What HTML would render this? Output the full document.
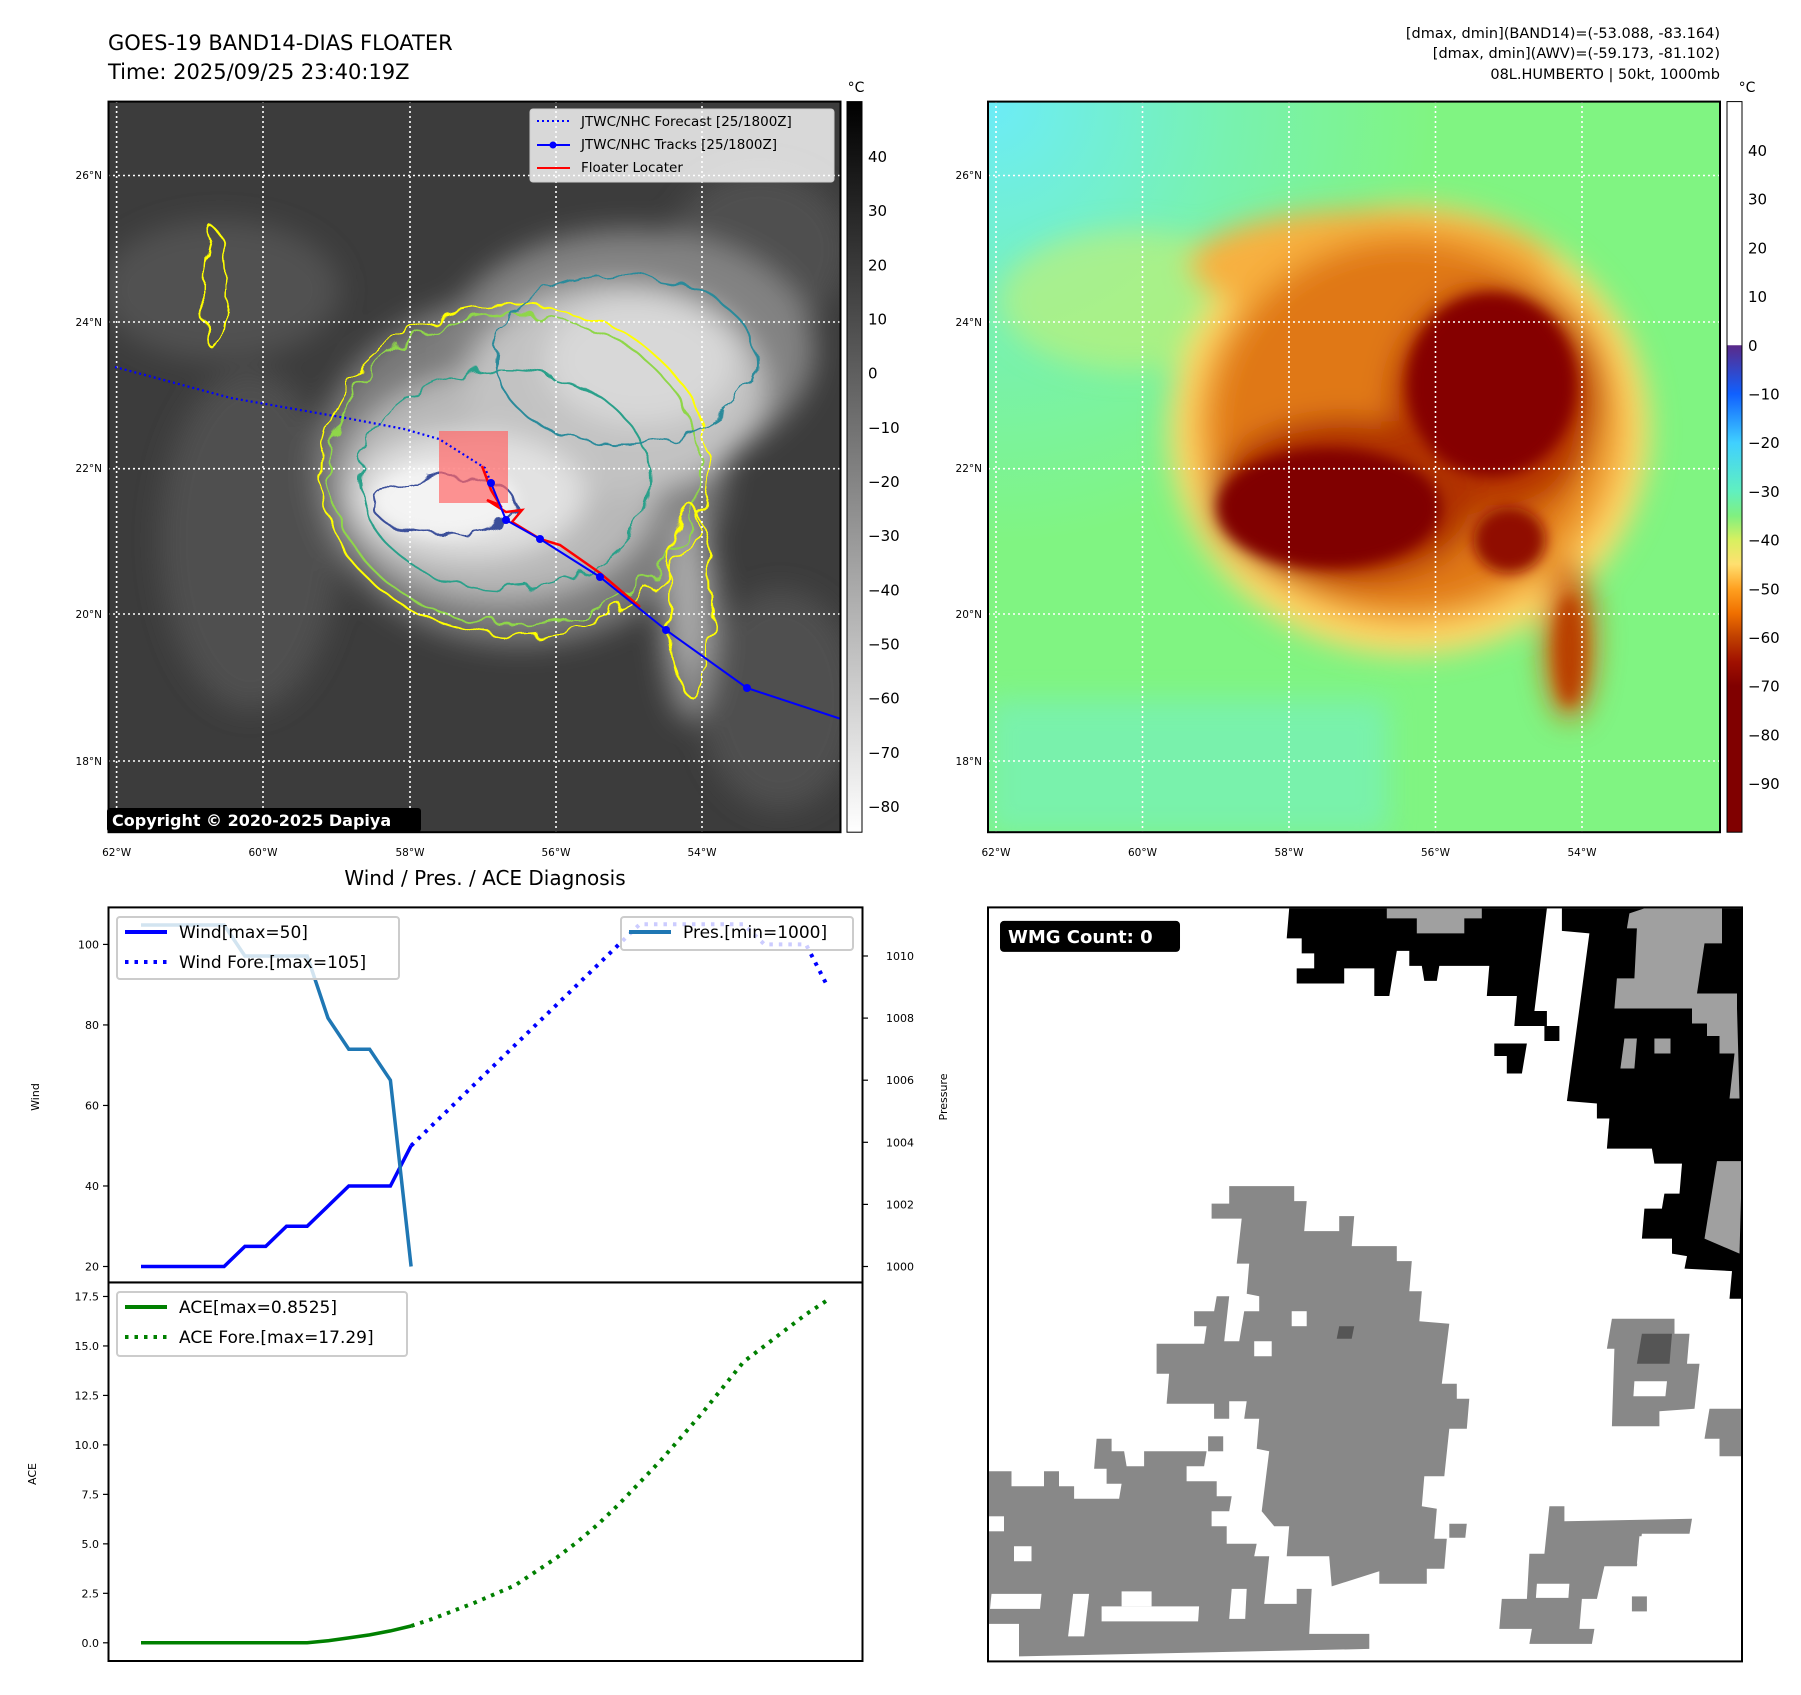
<!DOCTYPE html>
<html><head><meta charset="utf-8"><style>
html,body{margin:0;padding:0;background:#fff;}
svg text{font-family:"DejaVu Sans","Liberation Sans",sans-serif;}
</style></head><body>
<svg id="root" width="1801" height="1690" viewBox="0 0 1801 1690" xmlns="http://www.w3.org/2000/svg">
<defs>
<filter id="blur12" x="-50%" y="-50%" width="200%" height="200%"><feGaussianBlur stdDeviation="14"/></filter>
<filter id="blur6" x="-50%" y="-50%" width="200%" height="200%"><feGaussianBlur stdDeviation="7"/></filter>
<filter id="wig" x="-20%" y="-20%" width="140%" height="140%"><feTurbulence type="fractalNoise" baseFrequency="0.04" numOctaves="2" seed="3"/><feDisplacementMap in="SourceGraphic" scale="22"/></filter>
<clipPath id="c1"><rect x="108.5" y="101.6" width="732" height="730.6"/></clipPath>
<clipPath id="c2"><rect x="988" y="101.6" width="732" height="730.6"/></clipPath>
<linearGradient id="cb1" x1="0" y1="0" x2="0" y2="1"><stop offset="0" stop-color="#000"/><stop offset="1" stop-color="#fff"/></linearGradient>
<linearGradient id="cb2" x1="0" y1="0" x2="0" y2="1">
<stop offset="0" stop-color="#fff"/><stop offset="0.333" stop-color="#fff"/>
<stop offset="0.334" stop-color="#5a2a8a"/><stop offset="0.40" stop-color="#1060ff"/>
<stop offset="0.467" stop-color="#40d0ff"/><stop offset="0.533" stop-color="#60f0c0"/>
<stop offset="0.567" stop-color="#80f080"/><stop offset="0.60" stop-color="#d8f060"/>
<stop offset="0.633" stop-color="#ffe070"/><stop offset="0.667" stop-color="#ffa020"/>
<stop offset="0.70" stop-color="#f07000"/><stop offset="0.733" stop-color="#c04000"/>
<stop offset="0.767" stop-color="#a01000"/><stop offset="0.80" stop-color="#800000"/><stop offset="1" stop-color="#800000"/>
</linearGradient>
<radialGradient id="bg2" cx="0" cy="0" r="1.1"><stop offset="0" stop-color="#6cecf8"/><stop offset="0.3" stop-color="#78f2b0"/><stop offset="0.55" stop-color="#80f482"/><stop offset="1" stop-color="#80f482"/></radialGradient>
</defs>

<text x="108" y="50" font-size="21">GOES-19 BAND14-DIAS FLOATER</text>
<text x="108" y="79" font-size="21">Time: 2025/09/25 23:40:19Z</text>
<g font-size="14.5" text-anchor="end">
<text x="1720" y="38">[dmax, dmin](BAND14)=(-53.088, -83.164)</text>
<text x="1720" y="58">[dmax, dmin](AWV)=(-59.173, -81.102)</text>
<text x="1720" y="79">08L.HUMBERTO | 50kt, 1000mb</text>
</g>

<g clip-path="url(#c1)">
<rect x="108.5" y="101.6" width="732" height="731" fill="#3c3c3c"/>
<g filter="url(#blur12)">
<ellipse cx="250" cy="540" rx="90" ry="170" fill="#505050"/>
<ellipse cx="220" cy="290" rx="120" ry="70" fill="#515151"/>
<ellipse cx="760" cy="250" rx="90" ry="80" fill="#505050"/>
<ellipse cx="780" cy="700" rx="80" ry="110" fill="#505050"/>
<ellipse cx="520" cy="470" rx="205" ry="175" fill="#7a7a7a"/>
<ellipse cx="630" cy="350" rx="185" ry="120" fill="#828282"/>
<ellipse cx="690" cy="620" rx="28" ry="100" fill="#8a8a8a"/>
<ellipse cx="500" cy="485" rx="160" ry="115" fill="#b8b8b8"/>
<ellipse cx="615" cy="390" rx="150" ry="105" fill="#c2c2c2"/>
<ellipse cx="688" cy="590" rx="18" ry="80" fill="#aaa"/>
<ellipse cx="470" cy="495" rx="115" ry="62" fill="#e2e2e2"/>
<ellipse cx="640" cy="360" rx="95" ry="65" fill="#d8d8d8"/>
</g>
<ellipse cx="445" cy="500" rx="72" ry="36" fill="#f3f3f3" filter="url(#blur6)"/>
<g fill="none" stroke-width="2" filter="url(#wig)">
<ellipse cx="515" cy="470" rx="195" ry="165" stroke="#ffff00"/>
<ellipse cx="515" cy="470" rx="185" ry="155" stroke="#8fd64a"/>
<ellipse cx="505" cy="480" rx="145" ry="110" stroke="#2aa08a"/>
<ellipse cx="625" cy="360" rx="130" ry="85" stroke="#2a8a9a"/>
<ellipse cx="445" cy="505" rx="72" ry="30" stroke="#3b4f9a"/>
<ellipse cx="690" cy="600" rx="22" ry="95" stroke="#ffff00"/>
<ellipse cx="215" cy="290" rx="12" ry="60" stroke="#ffff00"/>
</g>
<g stroke="#fff" stroke-width="1.6" stroke-dasharray="2,3">
<line x1="116.6" y1="101" x2="116.6" y2="833"/><line x1="263" y1="101" x2="263" y2="833"/><line x1="410" y1="101" x2="410" y2="833"/><line x1="556" y1="101" x2="556" y2="833"/><line x1="702" y1="101" x2="702" y2="833"/>
<line x1="108" y1="175.5" x2="841" y2="175.5"/><line x1="108" y1="322" x2="841" y2="322"/><line x1="108" y1="468.7" x2="841" y2="468.7"/><line x1="108" y1="614" x2="841" y2="614"/><line x1="108" y1="761" x2="841" y2="761"/>
</g>
<rect x="439" y="431" width="69" height="72" fill="#ff6666" opacity="0.7"/>
<polyline points="115,367 231,398 346,418 404,429 439,439 485,468 491,483" fill="none" stroke="#0000ff" stroke-width="2.2" stroke-dasharray="2,3"/>
<polyline points="482,466 491,490 500,505 487,500 506,512 522,510 512,522 540,539 560,545 600,573 640,607" fill="none" stroke="#ff0000" stroke-width="2.5"/>
<polyline points="491,483 506,520 540,539 600,577 666,630 747,688 841,719" fill="none" stroke="#0000ff" stroke-width="2"/>
<g fill="#0000ff"><circle cx="491" cy="483" r="4"/><circle cx="506" cy="520" r="4"/><circle cx="540" cy="539" r="4"/><circle cx="600" cy="577" r="4"/><circle cx="666" cy="630" r="4"/><circle cx="747" cy="688" r="4"/></g>
</g>
<rect x="108.5" y="101.6" width="732" height="730.6" fill="none" stroke="#000" stroke-width="2"/>
<g>
<rect x="530" y="109" width="304" height="73" rx="3" fill="#fff" fill-opacity="0.8" stroke="#ccc"/>
<line x1="537" y1="121" x2="570" y2="121" stroke="#0000ff" stroke-width="2" stroke-dasharray="2,3"/>
<line x1="537" y1="145" x2="570" y2="145" stroke="#0000ff" stroke-width="2"/><circle cx="553" cy="145" r="3.5" fill="#0000ff"/>
<line x1="537" y1="168" x2="570" y2="168" stroke="#ff0000" stroke-width="2"/>
<g font-size="13.5"><text x="581" y="126">JTWC/NHC Forecast [25/1800Z]</text><text x="581" y="149">JTWC/NHC Tracks [25/1800Z]</text><text x="581" y="172">Floater Locater</text></g>
</g>
<g><rect x="107" y="808" width="314" height="24" rx="3" fill="#000"/>
<text x="112" y="826" font-size="16" font-weight="bold" fill="#fff">Copyright © 2020-2025 Dapiya</text></g>
<g font-size="10.5">
<g text-anchor="end"><text x="102" y="179">26°N</text><text x="102" y="326">24°N</text><text x="102" y="472">22°N</text><text x="102" y="618">20°N</text><text x="102" y="765">18°N</text></g>
<g text-anchor="middle"><text x="116.6" y="856">62°W</text><text x="263" y="856">60°W</text><text x="410" y="856">58°W</text><text x="556" y="856">56°W</text><text x="702" y="856">54°W</text></g>
</g>
<g>
<rect x="847" y="101.6" width="15" height="730.6" fill="url(#cb1)" stroke="#000" stroke-width="1"/>
<text x="856" y="92" font-size="14" text-anchor="middle">°C</text>
<g font-size="15" id="cb1labels"></g>
</g>

<g clip-path="url(#c2)">
<rect x="988" y="101.6" width="732" height="731" fill="url(#bg2)"/>
<rect x="988" y="700" width="400" height="133" fill="#74f0c8" opacity="0.6" filter="url(#blur12)"/>
<g transform="translate(879.5,0)">
<g filter="url(#blur12)">
<ellipse cx="250" cy="300" rx="130" ry="70" fill="#c8f070" opacity="0.6"/>
<ellipse cx="530" cy="430" rx="240" ry="225" fill="#ffd868"/>
<ellipse cx="490" cy="265" rx="180" ry="55" fill="#f8b040"/>
<ellipse cx="530" cy="425" rx="215" ry="200" fill="#f0a030"/>
<ellipse cx="525" cy="425" rx="190" ry="182" fill="#e07818"/>
<ellipse cx="690" cy="640" rx="26" ry="80" fill="#d06818"/>
<ellipse cx="615" cy="400" rx="105" ry="115" fill="#b83800"/>
<ellipse cx="465" cy="500" rx="135" ry="82" fill="#b03000"/>
</g>
<ellipse cx="450" cy="508" rx="112" ry="60" fill="#800000" filter="url(#blur6)"/>
<ellipse cx="612" cy="385" rx="85" ry="92" fill="#850200" filter="url(#blur6)"/>
<ellipse cx="630" cy="540" rx="36" ry="33" fill="#901000" filter="url(#blur6)"/>
<ellipse cx="690" cy="650" rx="14" ry="55" fill="#b84000" filter="url(#blur6)"/>
</g>
<g stroke="#fff" stroke-width="1.6" stroke-dasharray="2,3">
<line x1="996" y1="101" x2="996" y2="833"/><line x1="1142.5" y1="101" x2="1142.5" y2="833"/><line x1="1289" y1="101" x2="1289" y2="833"/><line x1="1435.5" y1="101" x2="1435.5" y2="833"/><line x1="1582" y1="101" x2="1582" y2="833"/>
<line x1="988" y1="175.5" x2="1720" y2="175.5"/><line x1="988" y1="322" x2="1720" y2="322"/><line x1="988" y1="468.7" x2="1720" y2="468.7"/><line x1="988" y1="614" x2="1720" y2="614"/><line x1="988" y1="761" x2="1720" y2="761"/>
</g>
</g>
<rect x="988" y="101.6" width="732" height="730.6" fill="none" stroke="#000" stroke-width="2"/>
<g font-size="10.5">
<g text-anchor="end"><text x="982" y="179">26°N</text><text x="982" y="326">24°N</text><text x="982" y="472">22°N</text><text x="982" y="618">20°N</text><text x="982" y="765">18°N</text></g>
<g text-anchor="middle"><text x="996" y="856">62°W</text><text x="1142.5" y="856">60°W</text><text x="1289" y="856">58°W</text><text x="1435.5" y="856">56°W</text><text x="1582" y="856">54°W</text></g>
</g>
<g>
<rect x="1727" y="101.6" width="15" height="730.6" fill="url(#cb2)" stroke="#000" stroke-width="1"/>
<text x="1747" y="92" font-size="14" text-anchor="middle">°C</text>
<g font-size="15" id="cb2labels"></g>
</g>

<text x="485" y="885" font-size="20" text-anchor="middle">Wind / Pres. / ACE Diagnosis</text>
<g id="chart"></g>
<rect x="108.5" y="907.4" width="754" height="375" fill="none" stroke="#000" stroke-width="2"/>
<rect x="108.5" y="1282.5" width="754" height="378.5" fill="none" stroke="#000" stroke-width="2"/>
<text transform="translate(39,1097) rotate(-90)" font-size="11" text-anchor="middle">Wind</text>
<text transform="translate(947,1097) rotate(-90)" font-size="11" text-anchor="middle">Pressure</text>
<text transform="translate(36,1474) rotate(-90)" font-size="11" text-anchor="middle">ACE</text>

<g id="wmg"></g>
</svg>
<script>
const NS="http://www.w3.org/2000/svg";
function mk(tag,attrs,parent){const e=document.createElementNS(NS,tag);for(const k in attrs)e.setAttribute(k,attrs[k]);parent.appendChild(e);return e;}

const cb1Ticks=[40,30,20,10,0,-10,-20,-30,-40,-50,-60,-70,-80];
const cb2Ticks=[40,30,20,10,0,-10,-20,-30,-40,-50,-60,-70,-80,-90];
const g1=document.getElementById('cb1labels');
cb1Ticks.forEach(v=>{const y=157+(40-v)*5.417;const t=mk('text',{x:868,y:y+5},g1);t.textContent=(v<0?'\u2212'+(-v):v);

});
const g2=document.getElementById('cb2labels');
cb2Ticks.forEach(v=>{const y=151+(40-v)*4.87;const t=mk('text',{x:1748,y:y+5},g2);t.textContent=(v<0?'\u2212'+(-v):v);

});

const windObs=[20,20,20,20,20,25,25,30,30,35,40,40,40,50];
const presObs=[1011,1011,1011,1011,1011,1010,1010,1010,1010,1008,1007,1007,1006,1000];
const windFore=[50,55,60,65,70,75,80,85,90,95,100,105,105,105,105,105,105,100,100,100,90];
const aceObs=[0,0,0,0,0,0,0,0,0,0.1,0.25,0.4,0.6,0.85];
const aceFore=[0.85,1.2,1.6,2.0,2.45,2.9,3.6,4.3,5.1,6.0,7.0,8.1,9.2,10.4,11.6,12.9,14.2,15.0,15.8,16.6,17.29];
const windTicks=[20,40,60,80,100];
const presTicks=[1000,1002,1004,1006,1008,1010];
const aceTicks=[0,2.5,5,7.5,10,12.5,15,17.5];
const foreStart=13;

const cx=i=>141+i*20.78;
const wy=v=>1266.5-(v-20)*4.026;
const py=p=>1266.5-(p-1000)*31.05;
const ay=a=>1642.8-a*19.79;
const ch=document.getElementById('chart');

function pts(arr,f,off){return arr.map((v,i)=>cx(i+off).toFixed(1)+','+f(v).toFixed(1)).join(' ');}
let l;
l=mk('polyline',{points:pts(windFore,wy,foreStart),fill:'none',stroke:'#0000ff','stroke-width':4,'stroke-dasharray':'3.5,6'},ch);


l=mk('polyline',{points:pts(windObs,wy,0),fill:'none',stroke:'#0000ff','stroke-width':3.5},ch);


l=mk('polyline',{points:pts(presObs,py,0),fill:'none',stroke:'#1f77b4','stroke-width':3.5},ch);


l=mk('polyline',{points:pts(aceFore,ay,foreStart),fill:'none',stroke:'#008000','stroke-width':4,'stroke-dasharray':'3.5,6'},ch);


l=mk('polyline',{points:pts(aceObs,ay,0),fill:'none',stroke:'#008000','stroke-width':3.5},ch);



windTicks.forEach(v=>{const y=wy(v);const tk=mk('line',{x1:103,x2:108.5,y1:y,y2:y,stroke:'#000','stroke-width':1.2},ch);


const t=mk('text',{x:99,y:y+4,'font-size':11,'text-anchor':'end'},ch);t.textContent=v;

});
presTicks.forEach(v=>{const y=py(v);const tk=mk('line',{x1:862.5,x2:868,y1:y,y2:y,stroke:'#000','stroke-width':1.2},ch);


const t=mk('text',{x:886,y:y+4,'font-size':11},ch);t.textContent=v;

});
aceTicks.forEach(v=>{const y=ay(v);const tk=mk('line',{x1:103,x2:108.5,y1:y,y2:y,stroke:'#000','stroke-width':1.2},ch);


const t=mk('text',{x:99,y:y+4,'font-size':11,'text-anchor':'end'},ch);t.textContent=v.toFixed(1);

});

function legend(x,y,w,h,items,name){const g=mk('g',{},ch);


mk('rect',{x:x,y:y,width:w,height:h,rx:3,fill:'#fff','fill-opacity':0.8,stroke:'#ccc','stroke-width':2},g);
items.forEach((it,i)=>{const yy=y+15+i*30;
mk('line',{x1:x+8,x2:x+50,y1:yy,y2:yy,stroke:it.c,'stroke-width':4,'stroke-dasharray':it.d?'3.5,6':'none'},g);
const t=mk('text',{x:x+62,y:yy+6,'font-size':17},g);t.textContent=it.t;});}
legend(117,917,282,62,[{c:'#0000ff',t:'Wind[max=50]'},{c:'#0000ff',t:'Wind Fore.[max=105]',d:1}],'wind-legend');
legend(621,917,232,33,[{c:'#1f77b4',t:'Pres.[min=1000]'}],'pressure-legend');
legend(117,1292,290,64,[{c:'#008000',t:'ACE[max=0.8525]'},{c:'#008000',t:'ACE Fore.[max=17.29]',d:1}],'ace-legend');

const W=document.getElementById('wmg');
const sx=v=>988+(v-8)*754/1507, sy=v=>907.4+(v-8)*754/1507;
mk('rect',{x:988,y:907.4,width:754,height:754,fill:'#fff'},W);
const polys=[
['#000','610,10 1125,10 1100,215 1125,215 1125,245 1150,245 1150,275 1120,275 1120,245 1060,245 1065,185 1005,185 1010,125 910,125 905,155 880,155 875,125 850,125 850,95 825,95 820,125 810,185 780,185 780,130 720,130 720,160 625,160 625,130 660,130 660,100 635,100 635,70 605,70'],
['#000','1020,280 1085,280 1075,340 1045,340 1045,305 1020,305'],
['#000','1155,10 1515,10 1515,790 1490,790 1495,735 1400,730 1405,705 1375,700 1375,670 1315,670 1320,610 1355,610 1360,580 1390,580 1395,520 1340,520 1335,490 1245,490 1250,430 1225,430 1225,400 1165,395 1190,210 1210,60 1155,55'],
['#a0a0a0','805,10 995,10 995,30 960,30 960,60 865,60 865,30 805,30'],
['#a0a0a0','1320,10 1475,10 1475,80 1440,80 1425,180 1505,180 1505,210 1260,210 1265,150 1300,150 1305,50 1285,50 1290,20'],
['#a0a0a0','1415,210 1505,210 1510,390 1490,390 1500,300 1470,300 1470,265 1445,265 1445,240 1415,240'],
['#a0a0a0','1465,515 1515,515 1510,700 1440,670'],
['#a0a0a0','1280,270 1305,270 1300,330 1272,330'],
['#a0a0a0','1340,270 1372,270 1372,300 1340,300'],
['#888','490,565 620,565 620,595 645,595 640,655 710,655 710,625 740,625 735,685 825,685 825,715 855,715 850,775 875,775 870,835 930,840 915,960 945,960 945,990 970,990 965,1050 930,1050 920,1145 880,1145 875,1205 905,1210 900,1270 925,1270 920,1330 885,1330 885,1360 790,1360 790,1335 695,1365 690,1305 605,1305 610,1245 580,1245 555,1215 570,1095 545,1090 550,1030 520,1030 525,995 490,995 490,1030 460,1030 460,1000 365,1000 370,940 345,940 345,880 440,880 445,845 420,845 420,815 460,815 465,785 490,785 480,875 510,875 520,815 550,815 550,785 525,780 530,720 505,720 515,630 455,630 455,600 490,600'],
['#888','10,1135 55,1135 55,1165 120,1165 120,1135 150,1135 150,1165 180,1165 180,1190 270,1190 275,1160 245,1160 245,1130 220,1130 225,1070 255,1070 255,1095 280,1095 285,1125 320,1125 320,1095 445,1095 440,1125 405,1125 405,1155 465,1155 465,1185 495,1185 490,1215 455,1215 455,1245 485,1245 485,1280 545,1280 540,1305 570,1305 560,1400 625,1400 625,1370 655,1370 650,1460 770,1460 770,1490 70,1505 70,1440 10,1440'],
['#888','1130,1205 1160,1205 1160,1235 1415,1230 1410,1260 1315,1260 1305,1325 1240,1325 1225,1390 1195,1390 1190,1450 1220,1450 1215,1480 1090,1480 1095,1450 1030,1450 1035,1390 1085,1390 1090,1300 1120,1300'],
['#888','1255,830 1380,830 1380,860 1410,860 1405,920 1430,920 1420,1010 1350,1015 1350,1045 1255,1045 1260,890 1245,890 1250,860'],
['#888','1450,1010 1515,1010 1515,1105 1470,1105 1470,1070 1440,1070'],
['#888','930,1240 965,1240 962,1268 930,1268'],
['#888','448,1065 478,1065 478,1095 448,1095'],
['#888','1295,1385 1325,1385 1325,1415 1295,1415'],
['#555','1315,860 1375,860 1370,920 1305,920'],
['#555','710,845 740,845 735,870 705,870'],
['#fff','1300,955 1365,955 1362,985 1298,985'],
['#fff','615,815 645,815 645,845 615,845'],
['#fff','540,875 575,875 575,905 540,905'],
['#fff','15,1380 115,1380 112,1410 12,1410'],
['#fff','60,1285 95,1285 95,1315 60,1315'],
['#fff','178,1380 210,1380 200,1465 168,1465'],
['#fff','235,1405 430,1405 428,1435 235,1435'],
['#fff','275,1375 335,1375 335,1405 275,1405'],
['#fff','495,1370 525,1370 522,1430 490,1430'],
['#fff','10,1225 40,1225 40,1255 10,1255'],
['#fff','1105,1360 1170,1360 1168,1388 1103,1388'],
['#fff','1310,1265 1345,1265 1340,1320 1305,1320']
];
polys.forEach(p=>{const pp=p[1].split(' ').map(s=>{const a=s.split(',');return sx(+a[0]).toFixed(1)+','+sy(+a[1]).toFixed(1);}).join(' ');
const e=mk('polygon',{points:pp,fill:p[0]},W);

});
mk('rect',{x:988,y:907.4,width:754,height:754,fill:'none',stroke:'#000','stroke-width':2},W);
const wb=mk('g',{},W);


mk('rect',{x:sx(32),y:sy(35),width:180,height:31,rx:4,fill:'#000'},wb);
const wt=mk('text',{x:sx(32)+8,y:sy(35)+22,'font-size':18,'font-weight':'bold',fill:'#fff'},wb);wt.textContent='WMG Count: 0';
</script>
</body></html>
